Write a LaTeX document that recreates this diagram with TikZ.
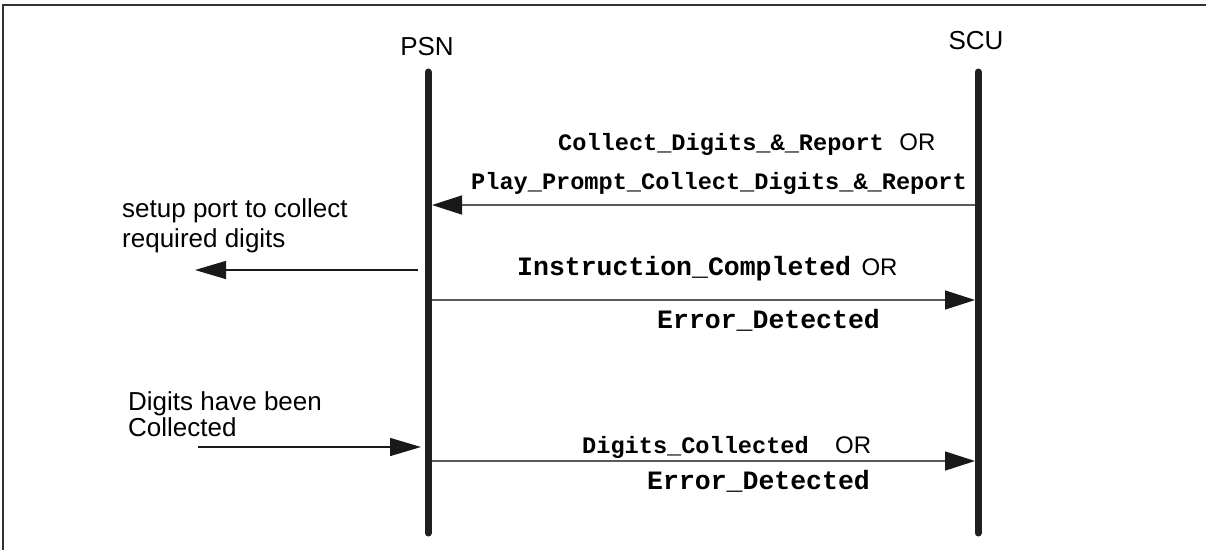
\documentclass[tikz,border=0pt]{standalone}
\usepackage{fontspec}
\setmainfont{Liberation Sans}
\newfontfamily\msgfont{Liberation Mono}
\usetikzlibrary{arrows.meta}

\begin{document}
\begin{tikzpicture}[x=1pt,y=-1pt,
  lifeline/.style={line width=7pt, line cap=round, draw=black!88},
  msg/.style={line width=1.4pt, draw=black!65,
    -{Triangle[length=30pt,width=19pt,color=black!90]}},
  note/.style={line width=1.4pt, draw=black!90,
    -{Triangle[length=31pt,width=18pt,color=black!90]}},
  sans/.style={font=\fontsize{26}{30}\selectfont, inner sep=0pt},
  orword/.style={font=\fontsize{24}{28}\selectfont, inner sep=0pt},
  mono/.style={font=\fontsize{23.6}{28}\selectfont\msgfont\bfseries, inner sep=0pt},
  monobig/.style={font=\fontsize{26.5}{30}\selectfont\msgfont\bfseries, inner sep=0pt}]

  % page area and frame
  \useasboundingbox (0,0) rectangle (1206,550);
  \draw[line width=2pt, draw=black!80] (3,550) -- (3,5) -- (1206,5);

  % lifeline heads
  \node[sans, anchor=base] (psn) at (427,55) {PSN};
  \node[sans, anchor=base] (scu) at (976,49) {SCU};

  % lifelines
  \coordinate (psnTop) at (428,72);
  \coordinate (psnBot) at (428,533);
  \coordinate (scuTop) at (978,72);
  \coordinate (scuBot) at (978,533);
  \draw[lifeline] (psnTop) -- (psnBot);
  \draw[lifeline] (scuTop) -- (scuBot);

  % message points on the lifelines
  \coordinate (p1) at (428,205);
  \coordinate (s1) at (978,205);
  \coordinate (p2) at (428,300);
  \coordinate (s2) at (978,300);
  \coordinate (p3) at (428,461);
  \coordinate (s3) at (978,461);

  % SCU -> PSN request
  \draw[msg, shorten >=4pt, shorten <=3pt] (s1) -- (p1);
  \node[mono, anchor=base west] (req1) at (558,150) {Collect\_Digits\_\&\_Report};
  \node[orword, anchor=base west] (req1or) at ([xshift=15pt]req1.base east) {OR};
  \node[mono, anchor=base west] (req2) at (471,189) {Play\_Prompt\_Collect\_Digits\_\&\_Report};

  % local action at PSN
  \coordinate (setupStart) at (418,270);
  \coordinate (setupEnd) at (195,270);
  \draw[note] (setupStart) -- (setupEnd);
  \node[sans, anchor=north west, align=left] (setup) at (122,198)
    {setup port to collect\\required digits};

  % PSN -> SCU response
  \draw[msg, shorten >=3pt, shorten <=4pt] (p2) -- (s2);
  \node[monobig, anchor=base west] (resp1) at (517,275) {Instruction\_Completed};
  \node[orword, anchor=base west] (resp1or) at ([xshift=10pt]resp1.base east) {OR};
  \node[monobig, anchor=base west] (err1) at (657,328) {Error\_Detected};

  % digits collected event
  \coordinate (evStart) at (198,447);
  \coordinate (evEnd) at (421,447);
  \draw[note] (evStart) -- (evEnd);
  \node[sans, anchor=north west, align=left] (ev) at (128,391)
    {Digits have been\\[-4pt]Collected};

  % PSN -> SCU report
  \draw[msg, shorten >=3pt, shorten <=4pt] (p3) -- (s3);
  \node[mono, anchor=base west] (rep1) at (582,453) {Digits\_Collected};
  \node[orword, anchor=base west] (rep1or) at ([xshift=26pt]rep1.base east) {OR};
  \node[monobig, anchor=base west] (err2) at (647,489) {Error\_Detected};
\end{tikzpicture}
\end{document}
